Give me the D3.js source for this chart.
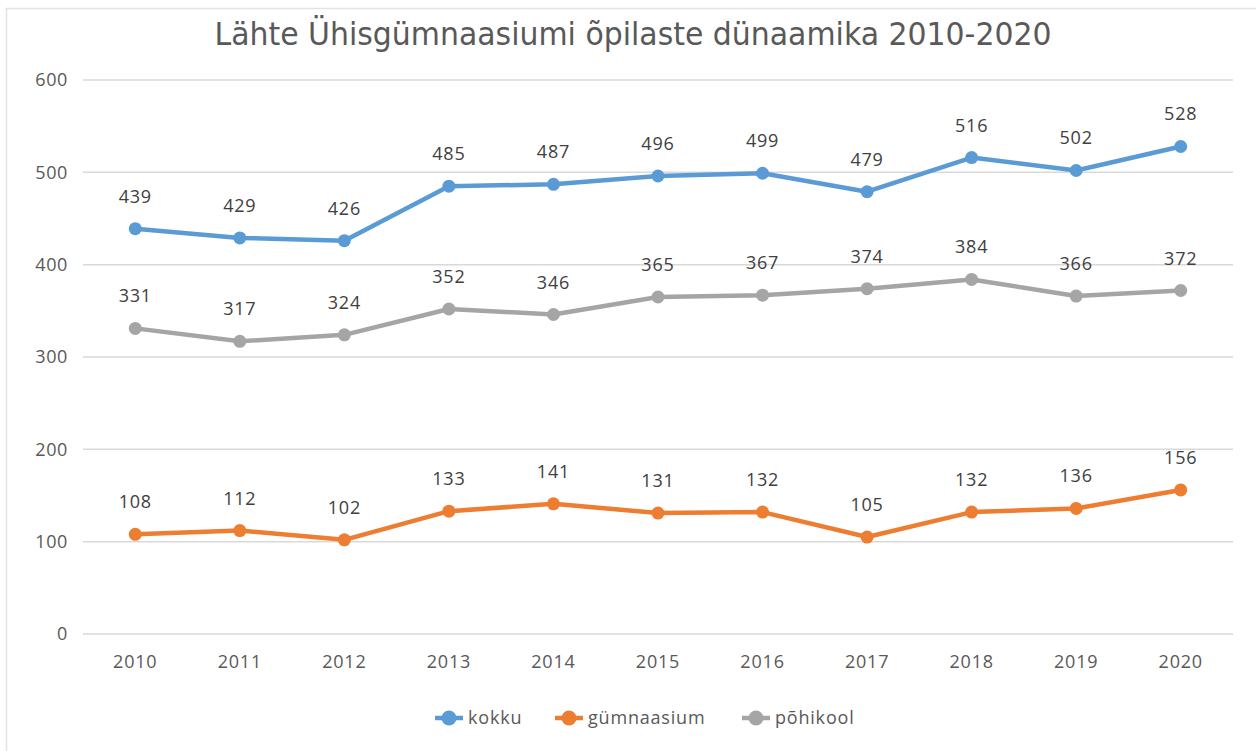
<!DOCTYPE html>
<html><head><meta charset="utf-8">
<script src="https://cdn.jsdelivr.net/npm/d3@7"></script>
<style>body{margin:0;background:#fff}svg{display:block}</style>
</head><body><svg id="c" width="1256" height="751"></svg>
<script>
const years = ["2010","2011","2012","2013","2014","2015","2016","2017","2018","2019","2020"];
const kokku = [439,429,426,485,487,496,499,479,516,502,528];
const gymnaasium = [108,112,102,133,141,131,132,105,132,136,156];
const pohikool = [331,317,324,352,346,365,367,374,384,366,372];
const yTicks = [0,100,200,300,400,500,600];
const seriesNames = ["kokku","gümnaasium","põhikool"];
const colors = ["#5b9bd5","#ed7d31","#a5a5a5"];
const title = "Lähte Ühisgümnaasiumi õpilaste dünaamika 2010-2020";

const series = [kokku, gymnaasium, pohikool];
const svg = d3.select("#c");
const font = "'Open Sans', 'DejaVu Sans', sans-serif";

// chart border
svg.append("rect").attr("x",6.5).attr("y",8.5).attr("width",1262).attr("height",760)
  .attr("fill","none").attr("stroke","#e3e3e3").attr("stroke-width",1.5);

const x = d3.scaleBand().domain(years).range([83,1233]);
const y = d3.scaleLinear().domain([0,600]).range([634,80]);
const cx = d => x(d) + x.bandwidth()/2;

// gridlines
svg.append("g").selectAll("line").data(yTicks).join("line")
  .attr("x1",83).attr("x2",1233).attr("y1",d=>y(d)).attr("y2",d=>y(d))
  .attr("stroke","#d9d9d9").attr("stroke-width",1.5);

// y axis labels
const ya = svg.append("g").attr("transform","translate(68,0)")
  .call(d3.axisLeft(y).tickValues(yTicks).tickSize(0).tickPadding(0));
ya.select(".domain").remove();
ya.selectAll("text").attr("font-family",font).attr("font-size",18).attr("letter-spacing",0.6).attr("fill","#595959");

// x axis labels
const xa = svg.append("g").attr("transform","translate(0,655)")
  .call(d3.axisBottom(x).tickSize(0).tickPadding(0));
xa.select(".domain").remove();
xa.selectAll("text").attr("font-family",font).attr("font-size",18).attr("letter-spacing",0.8).attr("fill","#595959");

// title
svg.append("text").attr("x",633).attr("y",45).attr("text-anchor","middle")
  .attr("font-family","'Liberation Sans Narrow','DejaVu Sans Condensed','Liberation Sans',sans-serif").attr("font-size",32)
  .attr("fill","#595959").attr("textLength",837).attr("lengthAdjust","spacingAndGlyphs")
  .text(title);

const line = d3.line().x((d,i)=>cx(years[i])).y(d=>y(d));
series.forEach((s,k)=>{
  const g = svg.append("g");
  g.append("path").datum(s).attr("d",line).attr("fill","none")
    .attr("stroke",colors[k]).attr("stroke-width",4.5).attr("stroke-linejoin","round").attr("stroke-linecap","round");
  g.selectAll("circle").data(s).join("circle")
    .attr("cx",(d,i)=>cx(years[i])).attr("cy",d=>y(d)).attr("r",6.5).attr("fill",colors[k]);
  g.selectAll("text").data(s).join("text")
    .attr("x",(d,i)=>cx(years[i])).attr("y",d=>y(d)-26)
    .attr("text-anchor","middle").attr("font-family",font).attr("font-size",18).attr("letter-spacing",0.8).attr("fill","#404040")
    .text(d=>d);
});

// legend
const legX = [435, 555, 742];
const lg = svg.append("g");
seriesNames.forEach((n,k)=>{
  const g = lg.append("g").attr("transform",`translate(${legX[k]},718)`);
  g.append("line").attr("x1",0).attr("x2",28).attr("stroke",colors[k]).attr("stroke-width",4.5);
  g.append("circle").attr("cx",14).attr("r",7.5).attr("fill",colors[k]);
  g.append("text").attr("x",33).attr("y",6).attr("font-family",font).attr("font-size",18).attr("letter-spacing",0.8).attr("fill","#595959").text(n);
});
</script></body></html>
